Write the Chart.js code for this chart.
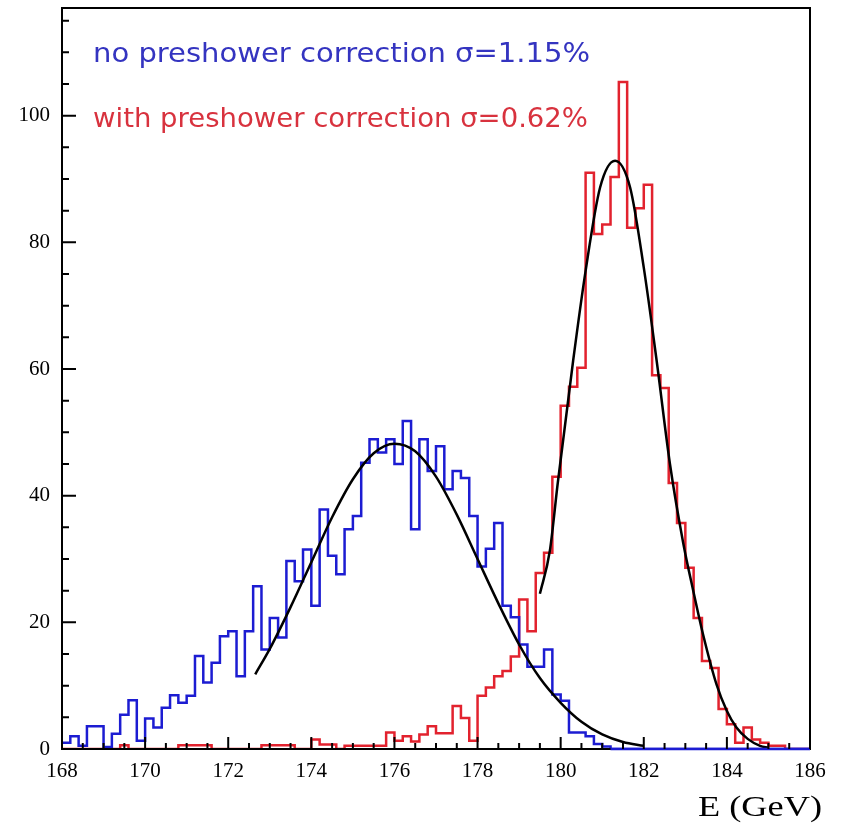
<!DOCTYPE html>
<html><head><meta charset="utf-8">
<script src="https://cdn.jsdelivr.net/npm/chart.js@4/dist/chart.umd.min.js"></script>
<style>html,body{margin:0;padding:0;background:#fff;} #wrap{width:841px;height:828px;}</style>
</head><body><div id="wrap"><canvas id="c" width="841" height="828"></canvas></div>
<script>
// ---- data ----
const binStart = 168;      // GeV, lower edge of first bin
const binWidth = 0.2;      // GeV
const blueCounts = [1,2,0.5,3.6,3.6,0.3,2.4,5.4,7.7,1.3,
  4.8,3.4,6.5,8.5,7.3,8.4,14.7,10.5,13.6,17.8,
  18.6,11.5,18.6,25.7,15.7,20.7,17.6,29.7,26.5,31.5,
  22.6,37.8,30.5,27.6,34.7,36.8,45.2,48.9,46.8,48.9,
  45,51.8,34.7,48.9,43.9,47.8,41,43.9,42.8,36.8,
  28.8,31.6,35.7,22.6,20.8,16.5,13,13,15.7,8.6,
  7.6,2.6,2.6,2,0.8,0.4,0,0,0,0,
  0,0,0,0,0,0,0,0,0,0,
  0,0,0,0,0,0,0,0,0,0];
const redCounts = [0,0,0,0,0,0,0,0.6,0,0,
  0,0,0,0,0.6,0.6,0.6,0.6,0,0,
  0,0,0,0,0.6,0.6,0.6,0.6,0,0,
  1.5,0.7,0.7,0,0.5,0.5,0.5,0.5,0.5,2.6,
  1.3,2,1.2,2.3,3.6,2.5,2.5,6.8,4.9,1.3,
  8.4,9.7,11.5,12.3,14.6,23.6,18.6,27.8,31,43,
  54.2,57.2,60.2,91,81.3,82.8,90.3,105.3,82.3,85.4,
  89.1,59,57,42,35.7,28.6,20.7,13.9,12.8,6.3,
  3.9,1,3.4,1.5,1,0.5,0.5,0,0,0];
const blueFitE = [172.65,173,173.5,174,174.5,175,175.5,176,176.5,177,177.5,178,178.5,179,179.5,180,180.5,181,181.5,182];
const blueFitV = [11.8,15.8,22.4,29.5,36.6,42.6,46.7,48.2,47,43,37,30,23,16.5,11.2,7.3,4.3,2.3,1.1,0.5];
const redFitE = [179.5,179.74,179.93,180.3,180.6,180.95,181.31,181.67,182,182.31,182.63,182.95,183.19,183.43,183.75,184,184.23,184.5,184.8,185];
const redFitV = [24.5,31.3,42,61.3,75.5,88.7,92.9,88.7,76,61.3,45,32.5,25,18,10.2,6,3.4,1.6,0.5,0.2];
const xTickLabels = [168,170,172,174,176,178,180,182,184,186];
const yTickLabels = [0,20,40,60,80,100];
const legendTexts = ["no preshower correction \u03C3=1.15%", "with preshower correction \u03C3=0.62%"];
const axisTitle = "E (GeV)";

const BLUE = '#1c1cd2', RED = '#e2222e';

function histPoints(counts){
  const pts = counts.map((v,i)=>({x: binStart + i*binWidth, y: v}));
  pts.push({x: binStart + counts.length*binWidth, y: 0});
  return pts;
}
function curvePoints(E, V){ return E.map((e,i)=>({x:e, y:V[i]})); }

function drawFit(ctx, text, x, y, font, color, targetW){
  ctx.font = font; ctx.fillStyle = color; ctx.textBaseline = 'alphabetic'; ctx.textAlign = 'left';
  const w = ctx.measureText(text).width;
  ctx.save(); ctx.translate(x, y); ctx.scale(targetW / w, 1); ctx.fillText(text, 0, 0); ctx.restore();
}

const decor = {
  id: 'decor',
  afterDraw(chart){
    const ctx = chart.ctx, a = chart.chartArea, xs = chart.scales.x, ys = chart.scales.y;
    ctx.save();
    // frame
    ctx.strokeStyle = '#000'; ctx.lineWidth = 2;
    ctx.strokeRect(a.left, a.top, a.right - a.left, a.bottom - a.top);
    // blue histogram baseline beyond its last filled bin
    let last = 0; blueCounts.forEach((v,i)=>{ if (v>0) last = i; });
    ctx.strokeStyle = BLUE; ctx.lineWidth = 2.5;
    ctx.beginPath();
    ctx.moveTo(xs.getPixelForValue(binStart + (last+1)*binWidth), ys.getPixelForValue(0));
    ctx.lineTo(xs.getPixelForValue(binStart + blueCounts.length*binWidth), ys.getPixelForValue(0));
    ctx.stroke();
    // inward ticks
    ctx.strokeStyle = '#000'; ctx.lineWidth = 2;
    ctx.beginPath();
    for (let k = 0; k <= 36; k++) {
      const t = 168 + k*0.5, px = xs.getPixelForValue(t);
      const len = (k % 4 === 0) ? 12 : 6;
      ctx.moveTo(px, a.bottom); ctx.lineTo(px, a.bottom - len);
    }
    for (let t = 0; t <= 115; t += 5) {
      const py = ys.getPixelForValue(t);
      const len = (t % 20 === 0) ? 14 : 7;
      ctx.moveTo(a.left, py); ctx.lineTo(a.left + len, py);
    }
    ctx.stroke();
    // texts
    drawFit(ctx, legendTexts[0], 93, 62, '27px "DejaVu Sans"', '#3434c0', 497);
    drawFit(ctx, legendTexts[1], 93, 127, '27px "DejaVu Sans"', '#d8323e', 495);
    drawFit(ctx, axisTitle, 822 - 124, 816, '30px "Liberation Serif"', '#000', 124);
    ctx.restore();
  }
};

new Chart(document.getElementById('c'), {
  type: 'line',
  data: { datasets: [
    { label: 'fit no correction', data: curvePoints(blueFitE, blueFitV), borderColor: '#000', borderWidth: 2.5,
      pointRadius: 0, cubicInterpolationMode: 'monotone', fill: false, order: 0 },
    { label: 'fit with correction', data: curvePoints(redFitE, redFitV), borderColor: '#000', borderWidth: 2.5,
      pointRadius: 0, cubicInterpolationMode: 'monotone', fill: false, order: 0 },
    { label: 'no preshower correction', data: histPoints(blueCounts), stepped: 'before', borderColor: BLUE,
      borderWidth: 2.5, pointRadius: 0, fill: false, order: 1 },
    { label: 'with preshower correction', data: histPoints(redCounts), stepped: 'before', borderColor: RED,
      borderWidth: 2.5, pointRadius: 0, fill: false, order: 2 }
  ]},
  options: {
    responsive: false, animation: false, devicePixelRatio: 1,
    layout: { padding: { top: 8, right: 31, left: 0, bottom: 0 } },
    plugins: { legend: { display: false }, tooltip: { enabled: false } },
    scales: {
      x: { type: 'linear', min: 168, max: 186,
        border: { display: false }, grid: { display: false, drawTicks: false },
        ticks: { stepSize: 2, padding: 10, color: '#000', autoSkip: false, maxRotation: 0,
          font: { family: 'Liberation Serif', size: 21 },
          callback: v => xTickLabels.includes(Math.round(v*1000)/1000) ? String(Math.round(v)) : '' },
        afterFit: s => { s.height = 79; s.paddingLeft = 0; s.paddingRight = 0; } },
      y: { type: 'linear', min: 0, max: 117,
        border: { display: false }, grid: { display: false, drawTicks: false },
        ticks: { stepSize: 20, includeBounds: false, padding: 12, color: '#000',
          font: { family: 'Liberation Serif', size: 21 },
          callback: v => yTickLabels.includes(v) ? String(v) : '' },
        afterFit: s => { s.width = 62; s.paddingTop = 0; s.paddingBottom = 0; } }
    }
  },
  plugins: [decor]
});
</script></body></html>
